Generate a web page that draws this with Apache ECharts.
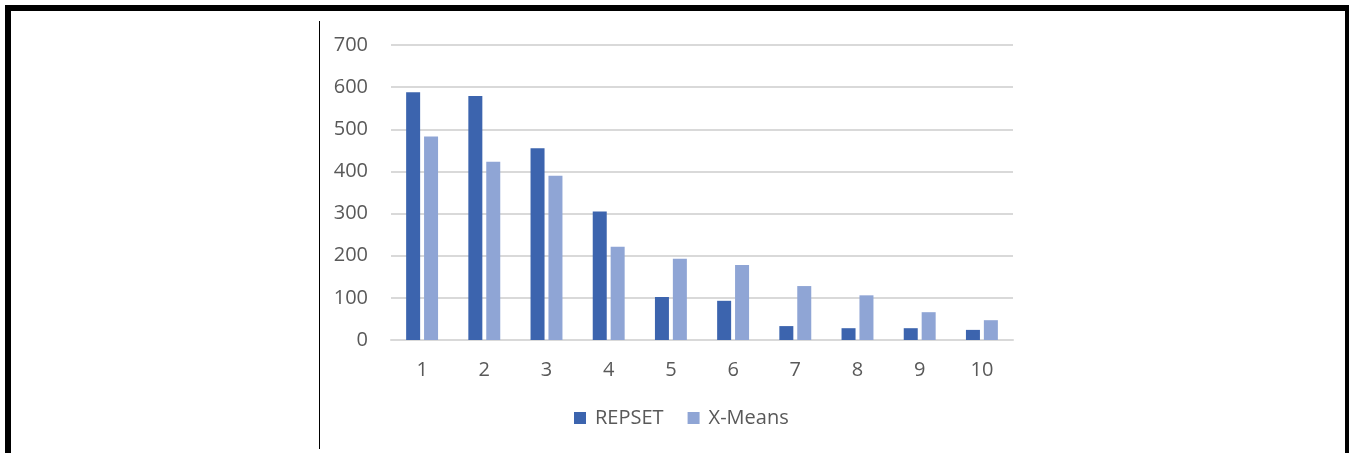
<!DOCTYPE html>
<html>
<head>
<meta charset="utf-8">
<script src="https://cdn.jsdelivr.net/npm/echarts@6/dist/echarts.min.js"></script>
<style>
  html, body { margin: 0; padding: 0; background: #ffffff; }
  #chart { width: 1350px; height: 453px; }
</style>
</head>
<body>
<div id="chart"></div>
<script>
// Category labels and series values
const categories = ['1', '2', '3', '4', '5', '6', '7', '8', '9', '10'];
const repset = [588, 579, 455, 305, 102, 93, 33, 28, 28, 24];
const xMeans = [483, 423, 390, 221, 193, 178, 128, 106, 66, 47];
const seriesNames = ['REPSET', 'X-Means'];

const textColor = '#595959';
const gridColor = '#d9d9d9';
const font = 'Open Sans';

const chart = echarts.init(document.getElementById('chart'), null, { renderer: 'canvas' });

chart.setOption({
  animation: false,
  backgroundColor: '#ffffff',
  textStyle: { fontFamily: font },
  grid: { left: 391, right: 337, top: 45, bottom: 113, containLabel: false },
  legend: {
    data: seriesNames,
    left: 569,
    top: 403,
    itemWidth: 12,
    itemHeight: 12,
    itemGap: 24,
    icon: 'rect',
    textStyle: { color: textColor, fontSize: 20, fontFamily: font, padding: [0, 0, 0, 4] }
  },
  xAxis: {
    type: 'category',
    data: categories,
    axisLine: { show: true, lineStyle: { color: gridColor, width: 2 } },
    axisTick: { show: false },
    axisLabel: { color: textColor, fontSize: 20, fontFamily: font, margin: 20 }
  },
  yAxis: {
    type: 'value',
    min: 0,
    max: 700,
    interval: 100,
    axisLine: { show: false },
    axisTick: { show: false },
    axisLabel: { color: textColor, fontSize: 20, fontFamily: font, margin: 23 },
    splitLine: { lineStyle: { color: gridColor, width: 2 } }
  },
  series: [
    {
      name: seriesNames[0],
      type: 'bar',
      data: repset,
      barWidth: 14,
      barGap: '28%',
      itemStyle: { color: '#3c64ae' }
    },
    {
      name: seriesNames[1],
      type: 'bar',
      data: xMeans,
      barWidth: 14,
      itemStyle: { color: '#8fa5d5' }
    }
  ],
  graphic: [
    // page frame
    { type: 'rect', shape: { x: 5, y: 5, width: 1344, height: 6 }, style: { fill: '#000' } },
    { type: 'rect', shape: { x: 5, y: 5, width: 6, height: 448 }, style: { fill: '#000' } },
    { type: 'rect', shape: { x: 1345, y: 5, width: 4, height: 448 }, style: { fill: '#000' } },
    // thin divider on the left of the chart
    { type: 'line', shape: { x1: 319.5, y1: 21, x2: 319.5, y2: 449 }, style: { stroke: '#000', lineWidth: 1 } }
  ]
});
</script>
</body>
</html>
